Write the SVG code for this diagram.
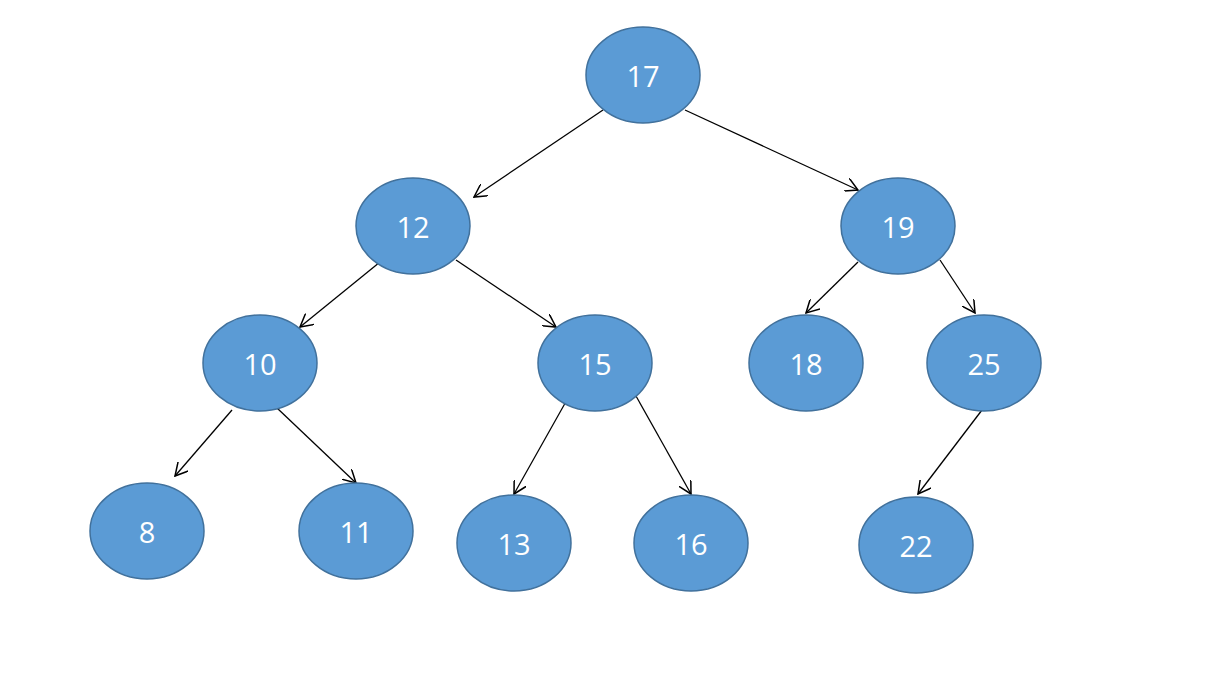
<svg xmlns="http://www.w3.org/2000/svg" width="1210" height="677" viewBox="0 0 1210 677">
<style>
.n ellipse{fill:#5B9BD5;stroke:#41719C;stroke-width:1.5}
.n text{fill:#fff;font-family:"Open Sans","Liberation Sans",sans-serif;font-size:29px;text-anchor:middle;dominant-baseline:central}
#edges line{stroke:#000;stroke-width:1.3;marker-end:url(#a)}
</style>
<defs><marker id="a" viewBox="0 0 12 12" refX="11" refY="6" markerWidth="14" markerHeight="14" markerUnits="userSpaceOnUse" orient="auto"><path d="M0,0 L11,6 L0,12" fill="none" stroke="#000" stroke-width="1.3"/></marker></defs>
<rect width="1210" height="677" fill="#fff"/>
<g id="edges">
<line x1="603" y1="110" x2="474" y2="197"/>
<line x1="685" y1="110" x2="858" y2="190"/>
<line x1="380" y1="262" x2="300" y2="327"/>
<line x1="456" y1="260" x2="556" y2="327"/>
<line x1="858" y1="262" x2="806" y2="313"/>
<line x1="940" y1="260" x2="975" y2="313"/>
<line x1="232" y1="410" x2="175" y2="476"/>
<line x1="277" y1="408" x2="356" y2="483"/>
<line x1="568" y1="398" x2="514" y2="494"/>
<line x1="636" y1="396" x2="691" y2="494"/>
<line x1="982" y1="410" x2="918" y2="494"/>
</g>
<g id="n17" class="n"><ellipse cx="643" cy="75" rx="57" ry="48"/><text x="643" y="75">17</text></g>
<g id="n12" class="n"><ellipse cx="413" cy="226" rx="57" ry="48"/><text x="413" y="226">12</text></g>
<g id="n19" class="n"><ellipse cx="898" cy="226" rx="57" ry="48"/><text x="898" y="226">19</text></g>
<g id="n10" class="n"><ellipse cx="260" cy="363" rx="57" ry="48"/><text x="260" y="363">10</text></g>
<g id="n15" class="n"><ellipse cx="595" cy="363" rx="57" ry="48"/><text x="595" y="363">15</text></g>
<g id="n18" class="n"><ellipse cx="806" cy="363" rx="57" ry="48"/><text x="806" y="363">18</text></g>
<g id="n25" class="n"><ellipse cx="984" cy="363" rx="57" ry="48"/><text x="984" y="363">25</text></g>
<g id="n8" class="n"><ellipse cx="147" cy="531" rx="57" ry="48"/><text x="147" y="531">8</text></g>
<g id="n11" class="n"><ellipse cx="356" cy="531" rx="57" ry="48"/><text x="356" y="531">11</text></g>
<g id="n13" class="n"><ellipse cx="514" cy="543" rx="57" ry="48"/><text x="514" y="543">13</text></g>
<g id="n16" class="n"><ellipse cx="691" cy="543" rx="57" ry="48"/><text x="691" y="543">16</text></g>
<g id="n22" class="n"><ellipse cx="916" cy="545" rx="57" ry="48"/><text x="916" y="545">22</text></g>
</svg>
